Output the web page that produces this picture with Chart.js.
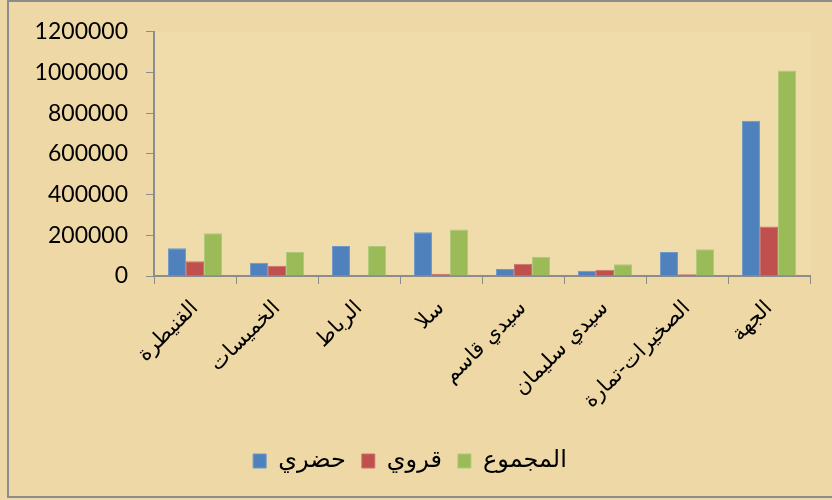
<!DOCTYPE html>
<html>
<head>
<meta charset="utf-8">
<script src="https://cdn.jsdelivr.net/npm/chart.js@4.4.0/dist/chart.umd.min.js"></script>
<style>
html,body{margin:0;padding:0;background:#eed9a6;}
#wrap{width:832px;height:500px;position:relative;}
</style>
</head>
<body>
<div id="wrap"><canvas id="c" width="832" height="500"></canvas></div>
<script>
const categories = ['القنيطرة','الخميسات','الرباط','سلا','سيدي قاسم','سيدي سليمان','الصخيرات-تمارة','الجهة'];
const urban = [136000, 65000, 147000, 215000, 35000, 26000, 118000, 763000];
const rural = [73000, 50000, 0, 11000, 60000, 31000, 8000, 243000];
const total = [210000, 118000, 147000, 228000, 95000, 58000, 131000, 1010000];
const seriesNames = ['حضري','قروي','المجموع'];
const yTicks = [0, 200000, 400000, 600000, 800000, 1000000, 1200000];

const bgPlugin = {
  id: 'bg',
  beforeDraw(chart) {
    const ctx = chart.ctx;
    ctx.save();
    ctx.fillStyle = '#eed9a6';
    ctx.fillRect(0, 0, chart.width, chart.height);
    const a = chart.chartArea;
    ctx.fillStyle = '#f0dcab';
    ctx.fillRect(a.left, a.top, a.right - a.left, a.bottom - a.top);
    ctx.strokeStyle = '#8c8c8c';
    ctx.lineWidth = 2;
    ctx.beginPath();
    ctx.moveTo(8, 0);
    ctx.lineTo(8, 497);
    ctx.lineTo(832, 497);
    ctx.moveTo(8, 1);
    ctx.lineTo(832, 1);
    ctx.stroke();
    ctx.restore();
  }
};

new Chart(document.getElementById('c'), {
  type: 'bar',
  data: {
    labels: categories,
    datasets: [
      {label: seriesNames[0], data: urban, backgroundColor: '#4f81bd', borderColor: '#6f98c8', borderWidth: 1},
      {label: seriesNames[1], data: rural, backgroundColor: '#c0504d', borderColor: '#cc716e', borderWidth: 1},
      {label: seriesNames[2], data: total, backgroundColor: '#9bbb59', borderColor: '#aec97a', borderWidth: 1}
    ]
  },
  plugins: [bgPlugin],
  options: {
    responsive: false,
    animation: false,
    devicePixelRatio: 1,
    layout: {padding: {left: 10, right: 22, top: 29, bottom: 17}},
    datasets: {bar: {categoryPercentage: 0.66, barPercentage: 1}},
    plugins: {
      tooltip: {enabled: false},
      legend: {
        position: 'bottom',
        labels: {
          font: {family: 'DejaVu Sans', size: 24},
          color: '#000',
          boxWidth: 13,
          boxHeight: 14,
          padding: 16
        }
      }
    },
    scales: {
      x: {
        grid: {drawOnChartArea: false, drawTicks: true, tickLength: 8, color: '#8c8c8c', offset: true},
        border: {display: true, color: '#8c8c8c', width: 2},
        ticks: {
          font: {family: 'DejaVu Sans', size: 21},
          color: '#000',
          maxRotation: 45,
          minRotation: 45,
          autoSkip: false,
          padding: 12
        },
        afterFit(s) { s.height = 157; }
      },
      y: {
        min: 0,
        max: 1200000,
        afterBuildTicks(s) { s.ticks = yTicks.map(v => ({value: v})); },
        grid: {drawOnChartArea: false, drawTicks: true, tickLength: 8, color: '#8c8c8c'},
        border: {display: true, color: '#8c8c8c', width: 2},
        ticks: {
          font: {family: 'Lato', size: 23},
          color: '#000',
          padding: 18,
          callback: v => String(v)
        },
        afterFit(s) { s.width = 144; }
      }
    }
  }
});
</script>
</body>
</html>
